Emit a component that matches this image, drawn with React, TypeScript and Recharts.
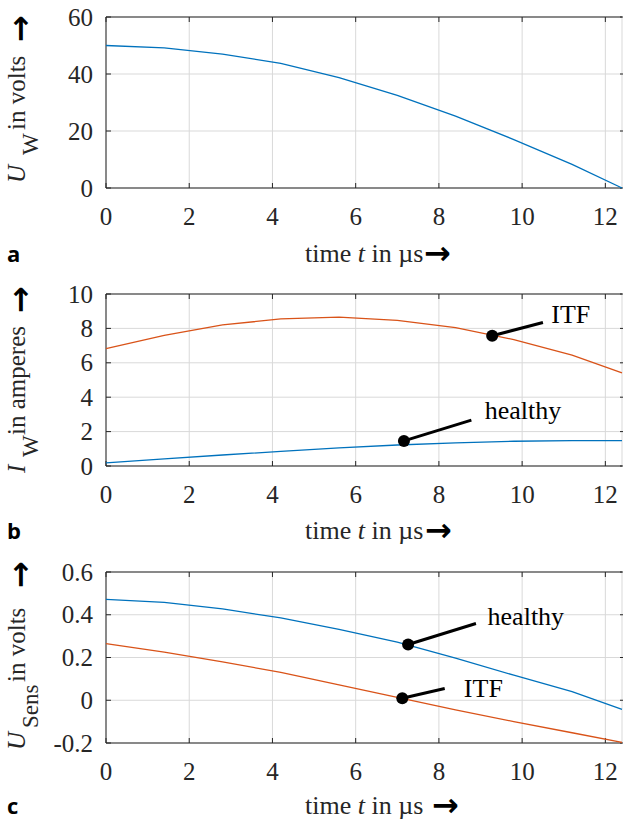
import { LineChart, Line, XAxis, YAxis, CartesianGrid, ReferenceDot, ReferenceLine } from 'recharts'

// time samples in µs, shared by all three panels
const TIME = [0, 1.4, 2.8, 4.2, 5.6, 7, 8.4, 9.8, 11.2, 12.4]
const X_TICKS = [0, 2, 4, 6, 8, 10, 12]

// a: winding voltage
const U_W = [50, 49.2, 47, 43.7, 38.7, 32.5, 25.2, 17, 8.3, 0]
const U_W_TICKS = [0, 20, 40, 60]

// b: winding current
const I_W_HEALTHY = [0.18, 0.42, 0.64, 0.85, 1.05, 1.22, 1.35, 1.44, 1.48, 1.48]
const I_W_ITF = [6.82, 7.6, 8.2, 8.55, 8.65, 8.47, 8.05, 7.35, 6.45, 5.42]
const I_W_TICKS = [0, 2, 4, 6, 8, 10]

// c: sensor voltage
const U_SENS_HEALTHY = [0.472, 0.458, 0.427, 0.385, 0.332, 0.272, 0.197, 0.117, 0.04, -0.043]
const U_SENS_ITF = [0.265, 0.225, 0.18, 0.13, 0.072, 0.013, -0.045, -0.1, -0.152, -0.197]
const U_SENS_TICKS = [-0.2, 0, 0.2, 0.4, 0.6]

// annotations: marker on the curve, end of the leader, text start/baseline
const NOTES_B = [
  { text: 'ITF', dot: [9.28, 7.57], end: [10.5, 8.34], label: [10.7, 8.31] },
  { text: 'healthy', dot: [7.16, 1.46], end: [8.78, 2.67], label: [9.1, 2.72] },
]
const NOTES_C = [
  { text: 'healthy', dot: [7.26, 0.261], end: [8.89, 0.359], label: [9.17, 0.351] },
  { text: 'ITF', dot: [7.12, 0.009], end: [8.14, 0.055], label: [8.6, 0.016] },
]

const X_MAX = 12.4
const AXIS = '#262626'
const GRID = '#d9d9d9'
const BLUE = '#0072BD'
const ORANGE = '#D95319'
const SERIF = 'Liberation Serif'
const SANS = 'Open Sans'
const ARROW_FONT = 'DejaVu Sans'

function rows(cols: Record<string, number[]>) {
  return TIME.map((t, i) => {
    const r: Record<string, number> = { t }
    for (const k in cols) r[k] = cols[k][i]
    return r
  })
}

type Series = { key: string; color: string }
type Note = { text: string; dot: number[]; end: number[]; label: number[] }

// inward ticks on bottom and top edges plus the tick value under the axis
function xTickShape(v: number) {
  return (p: any) => {
    const top = Math.min(p.y1, p.y2)
    const bottom = Math.max(p.y1, p.y2)
    return (
      <g>
        <line x1={p.x1} x2={p.x1} y1={top} y2={top + 5} stroke={AXIS} strokeWidth={1} />
        <line x1={p.x1} x2={p.x1} y1={bottom - 5} y2={bottom} stroke={AXIS} strokeWidth={1} />
        <text x={p.x1} y={bottom + 37} textAnchor="middle" fill={AXIS} fontSize={25} fontFamily={SERIF}>
          {String(v)}
        </text>
      </g>
    )
  }
}

// inward ticks on left and right edges plus the tick value left of the axis
function yTickShape(v: number) {
  return (p: any) => {
    const left = Math.min(p.x1, p.x2)
    const right = Math.max(p.x1, p.x2)
    return (
      <g>
        <line x1={left} x2={left + 5} y1={p.y1} y2={p.y1} stroke={AXIS} strokeWidth={1} />
        <line x1={right - 2} x2={right + 1} y1={p.y1} y2={p.y1} stroke={AXIS} strokeWidth={1} />
        <text x={left - 13} y={p.y1 + 8.5} textAnchor="end" fill={AXIS} fontSize={25} fontFamily={SERIF}>
          {String(v)}
        </text>
      </g>
    )
  }
}

function Panel({
  top,
  plotH,
  data,
  series,
  domain,
  ticks,
  notes = [],
}: {
  top: number
  plotH: number
  data: Record<string, number>[]
  series: Series[]
  domain: [number, number]
  ticks: number[]
  notes?: Note[]
}) {
  return (
    <div style={{ position: 'absolute', left: 0, top }}>
      <LineChart width={623} height={17 + plotH + 60} data={data} margin={{ top: 17, right: 1, bottom: 60, left: 106 }}>
        <CartesianGrid stroke={GRID} />
        <XAxis dataKey="t" type="number" domain={[0, X_MAX]} ticks={X_TICKS} tickSize={-5} height={0} />
        <YAxis type="number" domain={domain} ticks={ticks} tickSize={-5} width={0} />
        <ReferenceLine y={domain[1]} stroke={AXIS} />
        <ReferenceLine y={domain[0]} stroke={AXIS} />
        <ReferenceLine x={0} stroke={AXIS} />
        {X_TICKS.map((v) => (
          <ReferenceLine key={'xt' + v} x={v} shape={xTickShape(v)} />
        ))}
        {ticks.map((v) => (
          <ReferenceLine key={'yt' + v} y={v} shape={yTickShape(v)} />
        ))}
        {series.map((s) => (
          <Line
            key={s.key}
            dataKey={s.key}
            type="linear"
            stroke={s.color}
            strokeWidth={1.3}
            dot={false}
            activeDot={false}
            isAnimationActive={false}
          />
        ))}
        {notes.map((n) => (
          <ReferenceLine
            key={n.text + '-line'}
            segment={[
              { x: n.dot[0], y: n.dot[1] },
              { x: n.end[0], y: n.end[1] },
            ]}
            stroke="#000"
            strokeWidth={3}
          />
        ))}
        {notes.map((n) => (
          <ReferenceDot key={n.text + '-dot'} x={n.dot[0]} y={n.dot[1]} r={6} fill="#000" stroke="none" />
        ))}
        {notes.map((n) => (
          <ReferenceDot
            key={n.text + '-label'}
            x={n.label[0]}
            y={n.label[1]}
            r={0}
            shape={(p: any) => (
              <text x={p.cx} y={p.cy} fill="#000" fontSize={26} fontFamily={SERIF}>
                {n.text}
              </text>
            )}
          />
        ))}
      </LineChart>
    </div>
  )
}

// rotated y title; positions are page y where each piece starts (bottom end)
function YTitle({ parts, arrowAt }: { parts: { s: string; at: number; sub?: boolean; italic?: boolean }[]; arrowAt: number }) {
  return (
    <g transform="translate(25 0) rotate(-90)">
      {parts.map((p) => (
        <text
          key={p.s}
          x={-p.at}
          y={p.sub ? 13 : 0}
          fontSize={p.sub ? 23 : 25}
          fontStyle={p.italic ? 'italic' : 'normal'}
          fontFamily={SERIF}
          fill={AXIS}
        >
          {p.s}
        </text>
      ))}
      <text x={-arrowAt} y={-5} dominantBaseline="central" fontSize={32} fontWeight="bold" fontFamily={ARROW_FONT} fill="#000">
        →
      </text>
    </g>
  )
}

function XTitle({ base, arrowX }: { base: number; arrowX: number }) {
  return (
    <g>
      <text x={305} y={base} fontSize={26} fontFamily={SERIF} fill={AXIS}>
        time <tspan fontStyle="italic">t</tspan> in µs
      </text>
      <text x={arrowX} y={base - 9} dominantBaseline="central" fontSize={32} fontWeight="bold" fontFamily={ARROW_FONT} fill="#000">
        →
      </text>
    </g>
  )
}

function Letter({ s, base }: { s: string; base: number }) {
  return (
    <text x={7} y={base} fontSize={22} fontWeight="bold" fontFamily={SANS} fill="#000">
      {s}
    </text>
  )
}

export default function App() {
  const dataA = rows({ uw: U_W })
  const dataB = rows({ healthy: I_W_HEALTHY, itf: I_W_ITF })
  const dataC = rows({ healthy: U_SENS_HEALTHY, itf: U_SENS_ITF })

  return (
    <div style={{ position: 'absolute', left: 0, top: 0, width: 623, height: 823, overflow: 'hidden', background: '#fff' }}>
      <Panel top={0} plotH={171} data={dataA} series={[{ key: 'uw', color: BLUE }]} domain={[0, 60]} ticks={U_W_TICKS} />
      <Panel
        top={277}
        plotH={172}
        data={dataB}
        series={[
          { key: 'itf', color: ORANGE },
          { key: 'healthy', color: BLUE },
        ]}
        domain={[0, 10]}
        ticks={I_W_TICKS}
        notes={NOTES_B}
      />
      <Panel
        top={555}
        plotH={171}
        data={dataC}
        series={[
          { key: 'healthy', color: BLUE },
          { key: 'itf', color: ORANGE },
        ]}
        domain={[-0.2, 0.6]}
        ticks={U_SENS_TICKS}
        notes={NOTES_C}
      />
      <svg width={623} height={823} style={{ position: 'absolute', left: 0, top: 0, pointerEvents: 'none' }}>
        <YTitle
          parts={[
            { s: 'U', at: 183, italic: true },
            { s: 'W', at: 155, sub: true },
            { s: 'in volts', at: 130 },
          ]}
          arrowAt={42}
        />
        <YTitle
          parts={[
            { s: 'I', at: 473, italic: true },
            { s: 'W', at: 457, sub: true },
            { s: 'in amperes', at: 435 },
          ]}
          arrowAt={313}
        />
        <YTitle
          parts={[
            { s: 'U', at: 750, italic: true },
            { s: 'Sens', at: 728, sub: true },
            { s: 'in volts', at: 682 },
          ]}
          arrowAt={588}
        />
        <XTitle base={262} arrowX={424} />
        <XTitle base={539} arrowX={425} />
        <XTitle base={814} arrowX={432} />
        <Letter s="a" base={262} />
        <Letter s="b" base={539} />
        <Letter s="c" base={814} />
      </svg>
    </div>
  )
}
